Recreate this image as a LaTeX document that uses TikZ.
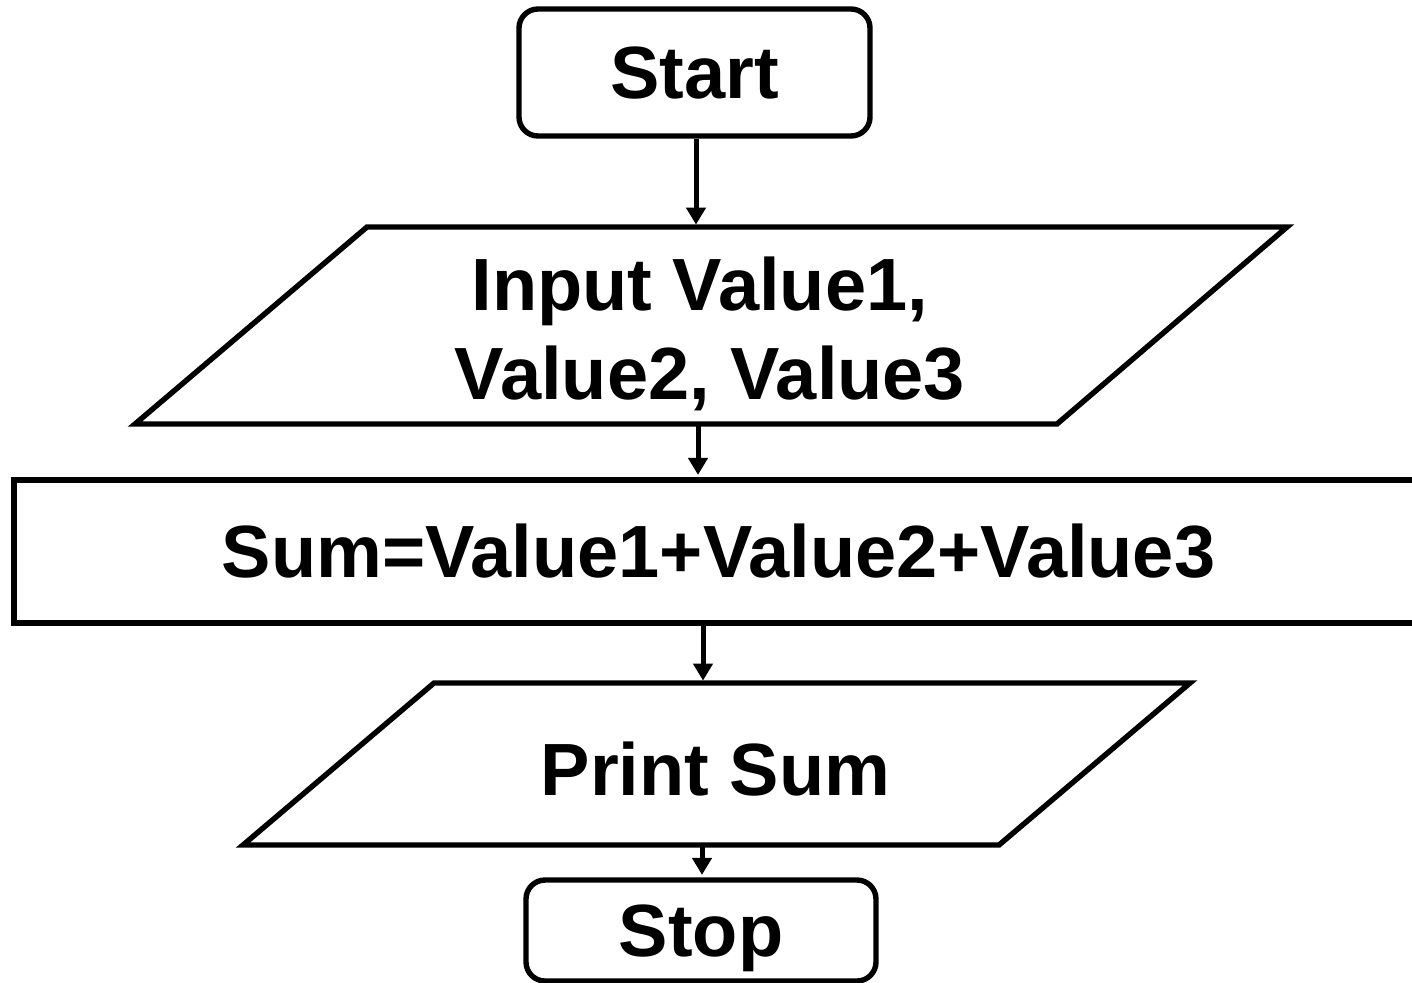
\documentclass[tikz,border=0pt]{standalone}
\usepackage{fontspec}
\setmainfont{Liberation Sans}
\usetikzlibrary{arrows.meta}

\tikzset{
  flowline/.style={line width=2.7pt, line join=miter},
  terminal/.style={flowline, draw, rectangle, rounded corners=9.5pt, inner sep=0pt, text depth=0pt},
  process/.style={flowline, draw, rectangle, inner sep=0pt},
  label/.style={inner sep=0pt, font=\bfseries\fontsize{37pt}{44.5pt}\selectfont},
  arr/.style={line width=2.5pt, -{Triangle[width=9.5pt,length=8.5pt]}, shorten >=1.2pt},
}

\begin{document}
\begin{tikzpicture}[x=0.5pt, y=-0.5pt]
\useasboundingbox (0,0) rectangle (1412,982);
\clip (0,0) rectangle (1412,982);

% terminal: start
\node[terminal, label, minimum width=175.5pt, minimum height=63.5pt] (start) at (694.5,72.5) {Start};

% input parallelogram
\draw[flowline] (367,227) -- (1287,227) -- (1057,424) -- (135,424) -- cycle;
\node[label, align=center] (input) at (710,334) {Input Value1,\hphantom{i}\\Value2, Value3};
\coordinate (in-top) at (696,227);
\coordinate (in-bot) at (698,424);

% process box (runs past the right edge)
\node[process, label, minimum width=704.5pt, minimum height=71.5pt] (sum) at (718.5,551.5) {Sum=Value1+Value2+Value3};

% output parallelogram
\draw[flowline] (434,683) -- (1190,683) -- (999,845) -- (243,845) -- cycle;
\node[label, anchor=base] (print) at (715.5,795) {Print Sum};
\coordinate (pr-top) at (703,683);
\coordinate (pr-bot) at (702,845);

% terminal: stop
\node[terminal, label, minimum width=175pt, minimum height=50.5pt] (stop) at (701,930.5) {Stop};

% connectors
\draw[arr] (start.south -| in-top) -- (in-top);
\draw[arr] (in-bot) -- (sum.north -| in-bot);
\draw[arr] (sum.south -| pr-top) -- (pr-top);
\draw[arr] (pr-bot) -- (stop.north -| pr-bot);
\end{tikzpicture}
\end{document}
